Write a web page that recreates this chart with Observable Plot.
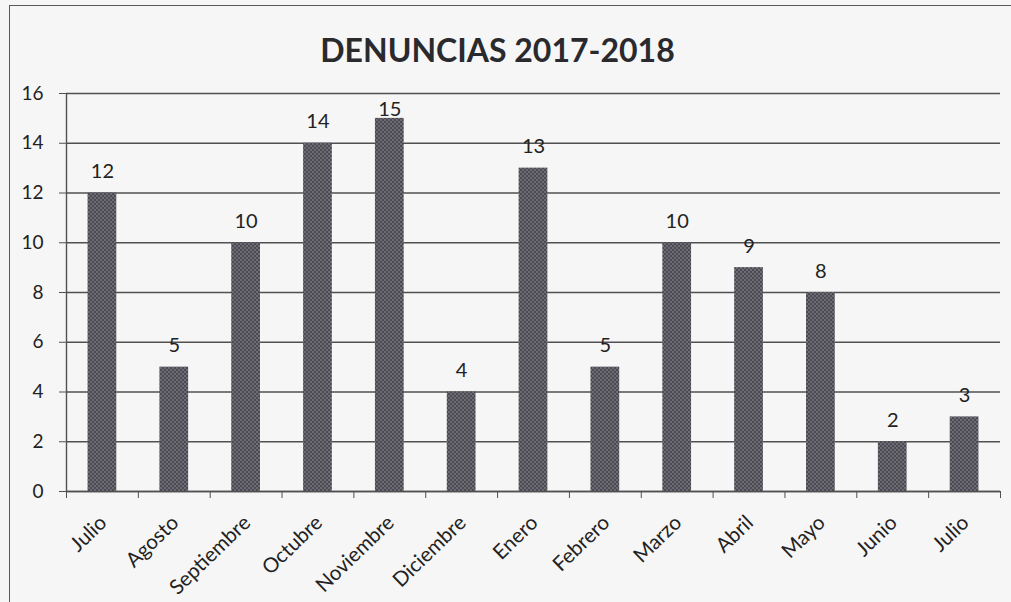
<!DOCTYPE html>
<html><head><meta charset="utf-8">
<script src="https://cdn.jsdelivr.net/npm/d3@7"></script>
<script src="https://cdn.jsdelivr.net/npm/@observablehq/plot@0.6"></script>
<style>
body{margin:0;background:#f6f6f6;width:1011px;height:602px;overflow:hidden;position:relative;font-family:Lato,sans-serif;}
#frame{position:absolute;left:9px;top:5px;width:1100px;height:700px;border:1.5px solid #5a5a5a;box-sizing:border-box;}
#title{position:absolute;left:-8px;top:30px;width:1011px;text-align:center;font-family:Lato,sans-serif;font-weight:bold;font-size:32px;color:#2a2a2e;line-height:normal;}
#chart{position:absolute;left:0;top:75px;}
</style></head>
<body>
<div id="frame"></div>
<div id="title">DENUNCIAS 2017-2018</div>
<div id="chart"></div>
<script>
const months = ["Julio","Agosto","Septiembre","Octubre","Noviembre","Diciembre","Enero","Febrero","Marzo","Abril","Mayo","Junio","Julio"];
const values = [12,5,10,14,15,4,13,5,10,9,8,2,3];
const yTicks = [0,2,4,6,8,10,12,14,16];

const data = months.map((m,i)=>({i, m, v: values[i]}));
const boundaries = d3.range(months.length + 1);

const plot = Plot.plot({
  width: 1011,
  height: 527,
  marginLeft: 66,
  marginRight: 11,
  marginTop: 18,
  marginBottom: 111,
  style: {background: "transparent", fontFamily: "Lato, sans-serif", color: "#222"},
  x: {type: "linear", domain: [0, months.length]},
  y: {domain: [0, 16]},
  marks: [
    Plot.ruleY(yTicks, {stroke: "#505050", strokeWidth: 1.4}),
    Plot.rect(data, {x1: d => d.i + 0.3, x2: d => d.i + 0.7, y1: 0, y2: "v", fill: "url(#checker)"}),
    Plot.text(data, {x: d => d.i + 0.5, y: d => Math.min(d.v + 0.6, 15.08), text: d => String(d.v), lineAnchor: "bottom", fontSize: 20, fill: "#222"}),
    Plot.ruleX([0], {y1: 0, y2: 16, stroke: "#505050", strokeWidth: 1.4}),
    Plot.ruleY([0], {stroke: "#505050", strokeWidth: 1.4}),
    Plot.axisY({ticks: yTicks, tickSize: 7, tickPadding: 16, fontSize: 19, label: null, stroke: "#505050"}),
    Plot.axisX({ticks: boundaries, tickSize: 7, tickFormat: () => "", label: null, stroke: "#505050"}),
    Plot.text(data, {x: d => d.i + 0.5, y: 0, text: "m", rotate: -44, textAnchor: "end", dx: 1, dy: 28, fontSize: 20.5, fill: "#222"})
  ]
});
const ns = "http://www.w3.org/2000/svg";
const defs = document.createElementNS(ns, "defs");
defs.innerHTML = `<pattern id="checker" width="4" height="4" patternUnits="userSpaceOnUse">
  <rect width="4" height="4" fill="#4b4a53"/>
  <rect x="0" y="0" width="2" height="2" fill="#6e6d75"/>
  <rect x="2" y="2" width="2" height="2" fill="#6e6d75"/>
</pattern>`;
plot.insertBefore(defs, plot.firstChild);
document.getElementById("chart").appendChild(plot);
</script>
</body></html>
